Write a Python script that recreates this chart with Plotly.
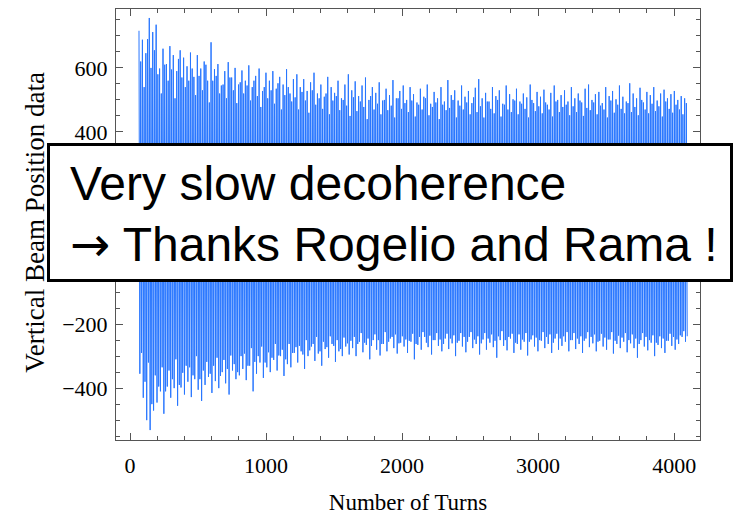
import numpy as np
import plotly.graph_objects as go

# Turn range covered by the beam position record
TURN_FIRST = 66
TURN_LAST = 4096

# Largest upper excursions of the vertical beam position, in turn order
UPPER = [
    716, 688, 646, 756, 712, 735, 598, 660, 612, 668, 640, 590, 655, 632,
    605, 648, 572, 640, 598, 620, 560, 680, 596, 612, 545, 590, 618, 570, 600, 548,
    592, 560, 608, 540, 575, 598, 528, 585, 560, 590, 535, 572, 548, 596, 520, 565,
    580, 540, 565, 528, 555, 585, 520, 548, 510, 572, 540, 522, 560, 505, 548, 580,
    530, 558, 512, 545, 570, 500, 540, 522, 555, 498, 535, 515, 562, 505, 528, 545,
    500, 540, 518, 492, 535, 510, 548, 488, 525, 505, 540, 495, 562, 515, 530, 498,
    545, 510, 528, 490, 538, 565, 505, 522, 495, 540, 512, 530, 488, 545, 518, 502,
    535, 495, 520, 508, 548, 490, 525, 510, 532, 485, 522, 545, 500, 515, 530, 495,
    540, 505, 520, 492, 535, 548, 500, 518, 525, 490, 540, 512, 528, 502, 545, 510,
    495, 552, 520, 505, 538, 492, 525, 515, 540, 498, 520, 532, 505, 518, 528, 500, 512, 505,
]

# Largest lower excursions, in turn order
LOWER = [
    -355, -430, -500, -531, -470, -445, -410, -480, -395, -430, -400, -455, -398, -420,
    -380, -428, -372, -405, -440, -390, -365, -415, -378, -400, -350, -385, -420, -345, -372, -360,
    -340, -375, -330, -410, -355, -320, -368, -335, -350, -312, -345, -300, -362, -325, -335, -290,
    -320, -285, -340, -300, -270, -315, -292, -330, -278, -305, -262, -318, -285, -300, -270, -295,
    -275, -300, -255, -288, -265, -310, -250, -280, -298, -262, -285, -245, -275, -292, -258, -270,
    -290, -255, -310, -265, -280, -240, -272, -295, -250, -268, -285, -245, -278, -260, -300, -252,
    -270, -288, -240, -275, -262, -295, -248, -280, -258, -272, -305, -250, -268, -282, -245, -290,
    -262, -280, -255, -298, -248, -270, -285, -252, -275, -262, -290, -245, -280, -268, -255, -285,
    -250, -278, -262, -290, -245, -272, -260, -285, -252, -270, -280, -248, -292, -262, -275, -255,
    -288, -260, -275, -305, -250, -270, -282, -258, -300, -265, -275, -290, -252, -268, -280, -262, -240, -255,
]

# Intermediate upper excursions recorded between the largest ones
UPPER_MID = [
    620, 540, 690, 600, 655, 580, 520, 610, 560, 595, 505, 628, 570, 540,
    560, 598, 515, 575, 530, 610, 492, 560, 575, 520, 548, 505, 570, 530, 490, 555,
    520, 545, 498, 560, 512, 478, 540, 505, 530, 488, 552, 470, 515, 540, 495, 508,
    470, 525, 498, 460, 530, 485, 505, 472, 520, 455, 498, 512, 468, 500, 482, 450,
    508, 465, 495, 478, 440, 512, 470, 488, 455, 500, 468, 482, 445, 505, 472, 490,
    462, 498, 448, 485, 470, 505, 452, 478, 492, 440, 485, 468, 475, 500, 445, 482,
    470, 492, 455, 508, 462, 480, 445, 495, 472, 458, 500, 448, 485, 470, 462, 498,
    455, 488, 472, 445, 500, 465, 480, 458, 492, 470, 448, 495, 462, 478, 485, 452,
    480, 462, 498, 450, 475, 468, 492, 455, 482, 470, 445, 498, 460, 485, 472, 458,
    490, 462, 478, 452, 500, 470, 458, 488, 465, 480, 448, 495, 472, 460, 485, 470, 455, 490,
]

# Intermediate lower excursions recorded between the largest ones
LOWER_MID = [
    -290, -380, -320, -450, -360, -395, -335, -410, -345, -372, -310, -390, -352, -330,
    -335, -360, -300, -372, -345, -318, -355, -330, -305, -362, -312, -340, -298, -325, -350, -300,
    -292, -330, -275, -318, -300, -270, -320, -288, -305, -262, -298, -280, -310, -262, -290, -272,
    -268, -295, -250, -282, -262, -240, -285, -255, -272, -238, -268, -250, -278, -242, -260, -252,
    -240, -262, -228, -258, -245, -268, -232, -250, -262, -225, -255, -240, -232, -260, -238, -248,
    -252, -230, -262, -240, -225, -258, -236, -250, -228, -248, -262, -230, -245, -235, -258, -228,
    -240, -255, -225, -248, -238, -260, -228, -245, -232, -252, -238, -222, -250, -240, -230, -258,
    -232, -248, -228, -255, -235, -242, -250, -225, -240, -232, -258, -230, -245, -238, -225, -250,
    -228, -245, -238, -252, -225, -240, -232, -255, -230, -242, -248, -225, -252, -236, -242, -228,
    -250, -232, -245, -262, -228, -240, -250, -235, -258, -238, -245, -252, -230, -240, -248, -235, -222, -238,
]

X_TICKS = [0, 1000, 2000, 3000, 4000]
Y_TICKS = [-400, -200, 0, 200, 400, 600]

# Interleave the excursions into one oscillating trace
position = np.empty(4 * len(UPPER))
position[0::4] = UPPER
position[1::4] = LOWER
position[2::4] = UPPER_MID
position[3::4] = LOWER_MID
turns = np.linspace(TURN_FIRST, TURN_LAST, position.size)

FRAME = "#555555"
SERIF = "Liberation Serif"

fig = go.Figure(
    go.Scatter(
        x=turns,
        y=position,
        mode="lines",
        line=dict(color="rgb(40,118,255)", width=1),
        hoverinfo="skip",
        showlegend=False,
    )
)

axis_common = dict(
    showgrid=False,
    zeroline=False,
    showline=True,
    linecolor=FRAME,
    linewidth=1,
    mirror="allticks",
    ticks="inside",
    ticklen=7,
    tickwidth=1,
    tickcolor=FRAME,
    automargin=False,
    tickfont=dict(family=SERIF, size=22, color="black"),
)

fig.update_xaxes(
    range=[-103, 4190],
    tickvals=X_TICKS,
    ticktext=[str(v) for v in X_TICKS],
    ticklabelstandoff=6,
    minor=dict(ticks="inside", dtick=200, tick0=0, ticklen=4, tickcolor=FRAME),
    title=dict(text="Number of Turns", font=dict(family=SERIF, size=23, color="black"), standoff=17),
    **axis_common,
)
fig.update_yaxes(
    range=[-562, 784],
    tickvals=Y_TICKS,
    ticklabelstandoff=3,
    minor=dict(ticks="inside", dtick=50, tick0=0, ticklen=4, tickcolor=FRAME),
    **axis_common,
)

caption_font = dict(family="Liberation Sans", size=48, color="black")

# Boxed caption laid over the middle of the plot
fig.add_annotation(
    xref="paper", yref="paper", x=0.469, y=0.528,
    xanchor="center", yanchor="middle", showarrow=False,
    text=" ", width=680, height=133,
    bgcolor="white", bordercolor="black", borderwidth=3, borderpad=0,
)

# Vertical axis title (an annotation, so the caption box can sit on top of it)
fig.add_annotation(
    xref="paper", yref="paper", x=-0.139, y=0.506,
    xanchor="center", yanchor="middle", textangle=-90, showarrow=False,
    text="Vertical Beam Position data",
    font=dict(family=SERIF, size=27, color="black"),
)

fig.add_annotation(
    xref="paper", yref="paper", x=-0.0822, y=0.594,
    xanchor="left", yanchor="middle", showarrow=False,
    text="Very slow decoherence", font=caption_font,
)
fig.add_annotation(
    xref="paper", yref="paper", x=-0.0822, y=0.455,
    xanchor="left", yanchor="middle", showarrow=False,
    text="<span style=\"font-family:'DejaVu Sans'\">\u2192</span> Thanks Rogelio and Rama !",
    font=caption_font,
)

fig.update_layout(
    width=734,
    height=515,
    autosize=False,
    margin=dict(l=116, r=34, t=9, b=75),
    paper_bgcolor="white",
    plot_bgcolor="white",
)

fig.write_html("out.html")
